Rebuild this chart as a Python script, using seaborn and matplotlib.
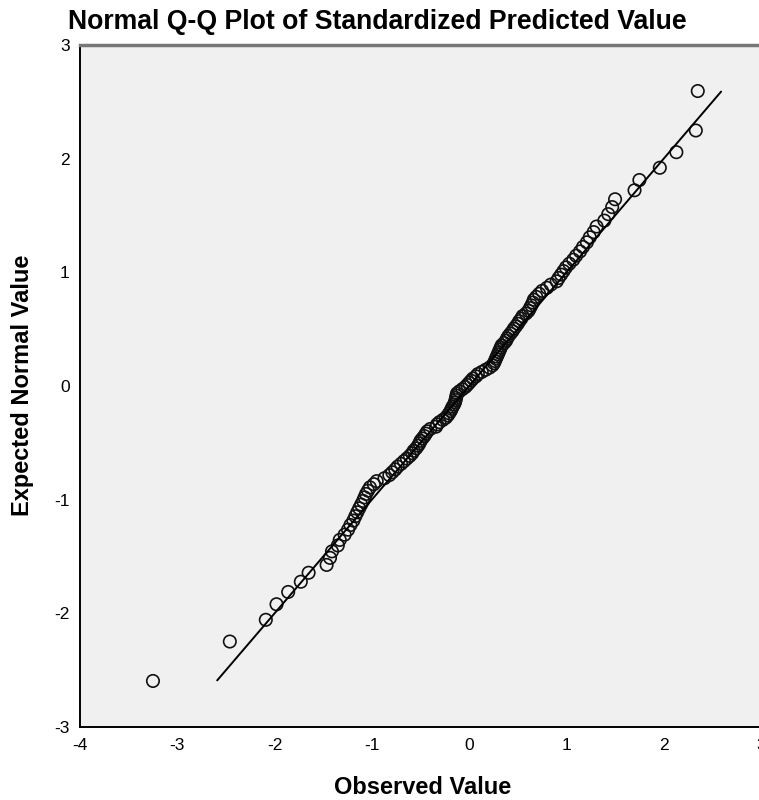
import matplotlib
matplotlib.use("Agg")
import matplotlib.pyplot as plt
import seaborn as sns
import pandas as pd

observed = [
    -3.25, -2.46, -2.09, -1.98, -1.86, -1.73, -1.65, -1.465, -1.43, -1.41,
    -1.35, -1.33, -1.28, -1.245, -1.22, -1.19, -1.17, -1.15, -1.13, -1.11,
    -1.09, -1.075, -1.06, -1.04, -1.02, -0.98, -0.95, -0.87, -0.82, -0.79,
    -0.76, -0.735, -0.70, -0.67, -0.64, -0.61, -0.585, -0.57, -0.545, -0.525,
    -0.51, -0.50, -0.48, -0.46, -0.445, -0.43, -0.40, -0.34, -0.33, -0.305,
    -0.27, -0.24, -0.22, -0.205, -0.19, -0.18, -0.17, -0.155, -0.145, -0.14,
    -0.135, -0.13, -0.125, -0.10, -0.07, -0.04,
    -0.02, 0.00, 0.02, 0.04, 0.07, 0.09, 0.13, 0.17, 0.21, 0.24,
    0.255, 0.265, 0.275, 0.285, 0.295, 0.305, 0.315, 0.325, 0.335, 0.36,
    0.38, 0.39, 0.405, 0.425, 0.445, 0.46, 0.48, 0.50, 0.515, 0.535,
    0.55, 0.585, 0.61, 0.625, 0.64, 0.655, 0.665, 0.69, 0.72, 0.75,
    0.80, 0.84, 0.90, 0.92, 0.945, 0.97, 0.995, 1.03, 1.07, 1.10,
    1.14, 1.17, 1.21, 1.24, 1.28, 1.31, 1.39, 1.43, 1.47, 1.50,
    1.70, 1.75, 1.96, 2.13, 2.33, 2.35,
]

# Expected normal values
expected = [
    -2.595, -2.248, -2.057, -1.920, -1.812, -1.722, -1.643, -1.574, -1.512, -1.455,
    -1.403, -1.354, -1.308, -1.264, -1.223, -1.184, -1.146, -1.111, -1.076, -1.043,
    -1.011, -0.980, -0.950, -0.921, -0.892, -0.864, -0.837, -0.811, -0.784, -0.759,
    -0.734, -0.709, -0.685, -0.661, -0.638, -0.615, -0.592, -0.570, -0.548, -0.525,
    -0.504, -0.482, -0.461, -0.440, -0.419, -0.399, -0.378, -0.358, -0.338, -0.318,
    -0.298, -0.279, -0.259, -0.240, -0.220, -0.201, -0.182, -0.162, -0.143, -0.124,
    -0.105, -0.085, -0.066, -0.047, -0.028, -0.009,
    0.009, 0.028, 0.047, 0.066, 0.085, 0.105, 0.124, 0.143, 0.162, 0.182,
    0.201, 0.220, 0.240, 0.259, 0.279, 0.298, 0.318, 0.338, 0.358, 0.378,
    0.399, 0.419, 0.440, 0.461, 0.482, 0.504, 0.525, 0.548, 0.570, 0.592,
    0.615, 0.638, 0.661, 0.685, 0.709, 0.734, 0.759, 0.784, 0.811, 0.837,
    0.864, 0.892, 0.921, 0.950, 0.980, 1.011, 1.043, 1.076, 1.111, 1.146,
    1.184, 1.223, 1.264, 1.308, 1.354, 1.403, 1.455, 1.512, 1.574, 1.643,
    1.722, 1.812, 1.920, 2.057, 2.248, 2.595,
]

# Reference line end points
ref_line = [-2.59, 2.59]

x_ticks = [-4, -3, -2, -1, 0, 1, 2, 3]
y_ticks = [-3, -2, -1, 0, 1, 2, 3]

title = "Normal Q-Q Plot of Standardized Predicted Value"
x_label = "Observed Value"
y_label = "Expected Normal Value"

sns.set_style("white")
plt.rcParams["font.family"] = ["Liberation Sans", "DejaVu Sans"]
plt.rcParams["text.color"] = "black"
plt.rcParams["axes.labelcolor"] = "black"
plt.rcParams["xtick.color"] = "black"
plt.rcParams["ytick.color"] = "black"

df = pd.DataFrame({"Observed": observed, "Expected": expected})
line_df = pd.DataFrame({"x": ref_line, "y": ref_line})

fig = plt.figure(figsize=(7.59, 8.0), dpi=100)
fig.patch.set_facecolor("white")
ax = fig.add_axes([80 / 759, 1 - 727 / 800, (761 - 80) / 759, (727 - 45) / 800])
ax.set_facecolor("#F0F0F0")

sns.lineplot(data=line_df, x="x", y="y", ax=ax, color="black", linewidth=1.4,
             estimator=None, sort=False)
sns.scatterplot(data=df, x="Observed", y="Expected", ax=ax, s=80,
                facecolor="none", edgecolor="#111111", linewidth=1.2, marker="o")

ax.set_xlim(-4, 3)
ax.set_ylim(-3, 3)
ax.set_xticks(x_ticks)
ax.set_yticks(y_ticks)
ax.set_xticklabels([str(t) for t in x_ticks], fontsize=12.5)
ax.set_yticklabels([str(t) for t in y_ticks], fontsize=12.5)
ax.tick_params(axis="x", direction="out", length=6, width=1.3, color="black", pad=2)
ax.tick_params(axis="y", direction="out", length=6, width=1.3, color="black", pad=1.5)

for side in ["left", "bottom"]:
    ax.spines[side].set_color("black")
    ax.spines[side].set_linewidth(1.4)
ax.spines["top"].set_color("#777777")
ax.spines["top"].set_linewidth(2.5)
ax.spines["right"].set_color("#777777")
ax.spines["right"].set_linewidth(2.5)

ax.set_xlabel("")
ax.set_ylabel("")
fig.text(423 / 759, 1 - 788 / 800, x_label, fontsize=17, fontweight="bold",
         ha="center", va="center")
fig.text(23 / 759, 1 - 385 / 800, y_label, fontsize=17, fontweight="bold",
         ha="center", va="center", rotation=90)
fig.text(68 / 759, 1 - 22 / 800, title, fontsize=19.2, ha="left", va="center",
         fontweight="bold")

fig.savefig("out.png", dpi=100, facecolor="white")
